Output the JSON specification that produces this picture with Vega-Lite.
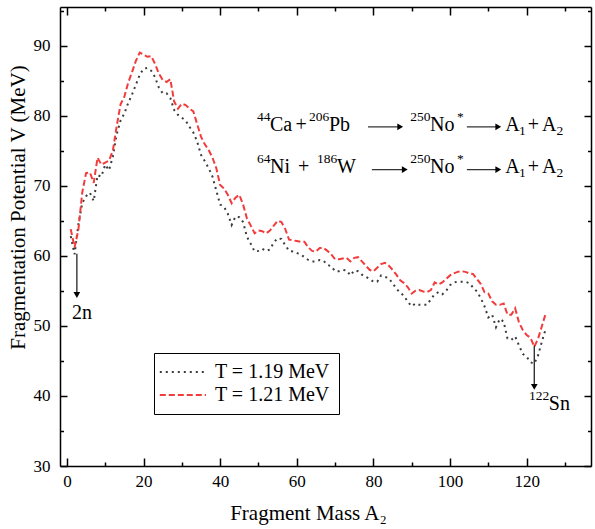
{
  "$schema": "https://vega.github.io/schema/vega-lite/v6.json",
  "width": 531,
  "height": 459,
  "autosize": {"type": "none"},
  "padding": {"left": 60, "top": 7, "right": 4, "bottom": 63},
  "background": "white",
  "config": {
    "view": {"stroke": null},
    "font": "Liberation Serif",
    "axis": {
      "grid": false,
      "domainColor": "black",
      "domainWidth": 1.5,
      "tickColor": "black",
      "tickWidth": 1.5,
      "labelFont": "Liberation Serif",
      "labelFontSize": 17,
      "labelColor": "black",
      "titleFont": "Liberation Serif",
      "titleFontSize": 21,
      "titleFontWeight": "normal",
      "titleColor": "black",
      "labelOverlap": false
    },
    "legend": {"labelFont": "Liberation Serif"},
    "text": {"font": "Liberation Serif"}
  },
  "datasets": {
    "curves": [
      {"A":1,"V":62.8,"s":"T = 1.19 MeV"},{"A":2,"V":60.2,"s":"T = 1.19 MeV"},{"A":3,"V":64.5,"s":"T = 1.19 MeV"},{"A":4,"V":67.5,"s":"T = 1.19 MeV"},{"A":5,"V":68.5,"s":"T = 1.19 MeV"},{"A":6,"V":69.0,"s":"T = 1.19 MeV"},{"A":7,"V":67.8,"s":"T = 1.19 MeV"},{"A":8,"V":71.5,"s":"T = 1.19 MeV"},{"A":9,"V":71.3,"s":"T = 1.19 MeV"},{"A":10,"V":73.0,"s":"T = 1.19 MeV"},
      {"A":11,"V":72.2,"s":"T = 1.19 MeV"},{"A":12,"V":74.2,"s":"T = 1.19 MeV"},{"A":13,"V":77.3,"s":"T = 1.19 MeV"},{"A":14,"V":79.3,"s":"T = 1.19 MeV"},{"A":15,"V":80.3,"s":"T = 1.19 MeV"},{"A":16,"V":81.8,"s":"T = 1.19 MeV"},{"A":17,"V":83.0,"s":"T = 1.19 MeV"},{"A":18,"V":84.4,"s":"T = 1.19 MeV"},{"A":19,"V":85.8,"s":"T = 1.19 MeV"},{"A":20,"V":86.7,"s":"T = 1.19 MeV"},
      {"A":21,"V":86.8,"s":"T = 1.19 MeV"},{"A":22,"V":86.4,"s":"T = 1.19 MeV"},{"A":23,"V":85.5,"s":"T = 1.19 MeV"},{"A":24,"V":84.0,"s":"T = 1.19 MeV"},{"A":25,"V":83.2,"s":"T = 1.19 MeV"},{"A":26,"V":83.2,"s":"T = 1.19 MeV"},{"A":27,"V":82.5,"s":"T = 1.19 MeV"},{"A":28,"V":80.8,"s":"T = 1.19 MeV"},{"A":29,"V":80.1,"s":"T = 1.19 MeV"},{"A":30,"V":79.7,"s":"T = 1.19 MeV"},
      {"A":31,"V":79.3,"s":"T = 1.19 MeV"},{"A":32,"V":78.4,"s":"T = 1.19 MeV"},{"A":33,"V":77.6,"s":"T = 1.19 MeV"},{"A":34,"V":76.3,"s":"T = 1.19 MeV"},{"A":35,"V":74.4,"s":"T = 1.19 MeV"},{"A":36,"V":73.5,"s":"T = 1.19 MeV"},{"A":37,"V":72.5,"s":"T = 1.19 MeV"},{"A":38,"V":71.3,"s":"T = 1.19 MeV"},{"A":39,"V":69.3,"s":"T = 1.19 MeV"},{"A":40,"V":67.3,"s":"T = 1.19 MeV"},
      {"A":41,"V":67.0,"s":"T = 1.19 MeV"},{"A":42,"V":66.0,"s":"T = 1.19 MeV"},{"A":43,"V":64.4,"s":"T = 1.19 MeV"},{"A":44,"V":65.6,"s":"T = 1.19 MeV"},{"A":45,"V":65.5,"s":"T = 1.19 MeV"},{"A":46,"V":64.8,"s":"T = 1.19 MeV"},{"A":47,"V":62.7,"s":"T = 1.19 MeV"},{"A":48,"V":61.7,"s":"T = 1.19 MeV"},{"A":49,"V":60.6,"s":"T = 1.19 MeV"},{"A":50,"V":60.7,"s":"T = 1.19 MeV"},
      {"A":51,"V":61.0,"s":"T = 1.19 MeV"},{"A":52,"V":60.7,"s":"T = 1.19 MeV"},{"A":53,"V":60.9,"s":"T = 1.19 MeV"},{"A":54,"V":61.9,"s":"T = 1.19 MeV"},{"A":55,"V":62.5,"s":"T = 1.19 MeV"},{"A":56,"V":62.4,"s":"T = 1.19 MeV"},{"A":57,"V":61.5,"s":"T = 1.19 MeV"},{"A":58,"V":60.7,"s":"T = 1.19 MeV"},{"A":59,"V":60.6,"s":"T = 1.19 MeV"},{"A":60,"V":60.4,"s":"T = 1.19 MeV"},
      {"A":61,"V":60.2,"s":"T = 1.19 MeV"},{"A":62,"V":59.8,"s":"T = 1.19 MeV"},{"A":63,"V":59.4,"s":"T = 1.19 MeV"},{"A":64,"V":59.2,"s":"T = 1.19 MeV"},{"A":65,"V":59.2,"s":"T = 1.19 MeV"},{"A":66,"V":59.4,"s":"T = 1.19 MeV"},{"A":67,"V":59.3,"s":"T = 1.19 MeV"},{"A":68,"V":58.7,"s":"T = 1.19 MeV"},{"A":69,"V":58.5,"s":"T = 1.19 MeV"},{"A":70,"V":57.8,"s":"T = 1.19 MeV"},
      {"A":71,"V":57.8,"s":"T = 1.19 MeV"},{"A":72,"V":58.0,"s":"T = 1.19 MeV"},{"A":73,"V":57.9,"s":"T = 1.19 MeV"},{"A":74,"V":57.2,"s":"T = 1.19 MeV"},{"A":75,"V":57.9,"s":"T = 1.19 MeV"},{"A":76,"V":57.8,"s":"T = 1.19 MeV"},{"A":77,"V":57.3,"s":"T = 1.19 MeV"},{"A":78,"V":57.0,"s":"T = 1.19 MeV"},{"A":79,"V":56.7,"s":"T = 1.19 MeV"},{"A":80,"V":56.3,"s":"T = 1.19 MeV"},
      {"A":81,"V":56.3,"s":"T = 1.19 MeV"},{"A":82,"V":57.2,"s":"T = 1.19 MeV"},{"A":83,"V":57.0,"s":"T = 1.19 MeV"},{"A":84,"V":56.8,"s":"T = 1.19 MeV"},{"A":85,"V":56.1,"s":"T = 1.19 MeV"},{"A":86,"V":55.3,"s":"T = 1.19 MeV"},{"A":87,"V":54.7,"s":"T = 1.19 MeV"},{"A":88,"V":54.3,"s":"T = 1.19 MeV"},{"A":89,"V":53.4,"s":"T = 1.19 MeV"},{"A":90,"V":52.8,"s":"T = 1.19 MeV"},
      {"A":91,"V":53.2,"s":"T = 1.19 MeV"},{"A":92,"V":53.0,"s":"T = 1.19 MeV"},{"A":93,"V":53.0,"s":"T = 1.19 MeV"},{"A":94,"V":53.0,"s":"T = 1.19 MeV"},{"A":95,"V":53.8,"s":"T = 1.19 MeV"},{"A":96,"V":54.5,"s":"T = 1.19 MeV"},{"A":97,"V":54.8,"s":"T = 1.19 MeV"},{"A":98,"V":54.5,"s":"T = 1.19 MeV"},{"A":99,"V":55.0,"s":"T = 1.19 MeV"},{"A":100,"V":55.8,"s":"T = 1.19 MeV"},
      {"A":101,"V":56.2,"s":"T = 1.19 MeV"},{"A":102,"V":56.3,"s":"T = 1.19 MeV"},{"A":103,"V":56.3,"s":"T = 1.19 MeV"},{"A":104,"V":56.3,"s":"T = 1.19 MeV"},{"A":105,"V":56.1,"s":"T = 1.19 MeV"},{"A":106,"V":55.5,"s":"T = 1.19 MeV"},{"A":107,"V":54.9,"s":"T = 1.19 MeV"},{"A":108,"V":54.0,"s":"T = 1.19 MeV"},{"A":109,"V":52.8,"s":"T = 1.19 MeV"},{"A":110,"V":51.2,"s":"T = 1.19 MeV"},
      {"A":111,"V":51.6,"s":"T = 1.19 MeV"},{"A":112,"V":49.8,"s":"T = 1.19 MeV"},{"A":113,"V":51.0,"s":"T = 1.19 MeV"},{"A":114,"V":50.6,"s":"T = 1.19 MeV"},{"A":115,"V":48.2,"s":"T = 1.19 MeV"},{"A":116,"V":48.0,"s":"T = 1.19 MeV"},{"A":117,"V":48.5,"s":"T = 1.19 MeV"},{"A":118,"V":47.2,"s":"T = 1.19 MeV"},{"A":119,"V":46.0,"s":"T = 1.19 MeV"},{"A":120,"V":45.6,"s":"T = 1.19 MeV"},
      {"A":121,"V":44.8,"s":"T = 1.19 MeV"},{"A":122,"V":44.6,"s":"T = 1.19 MeV"},{"A":123,"V":45.8,"s":"T = 1.19 MeV"},{"A":124,"V":47.8,"s":"T = 1.19 MeV"},{"A":125,"V":49.6,"s":"T = 1.19 MeV"},
      {"A":1,"V":63.8,"s":"T = 1.21 MeV"},{"A":2,"V":61.2,"s":"T = 1.21 MeV"},{"A":3,"V":63.7,"s":"T = 1.21 MeV"},{"A":4,"V":69.0,"s":"T = 1.21 MeV"},{"A":5,"V":71.8,"s":"T = 1.21 MeV"},{"A":6,"V":71.9,"s":"T = 1.21 MeV"},{"A":7,"V":70.4,"s":"T = 1.21 MeV"},{"A":8,"V":74.0,"s":"T = 1.21 MeV"},{"A":9,"V":73.0,"s":"T = 1.21 MeV"},{"A":10,"V":73.3,"s":"T = 1.21 MeV"},
      {"A":11,"V":73.6,"s":"T = 1.21 MeV"},{"A":12,"V":75.0,"s":"T = 1.21 MeV"},{"A":13,"V":78.5,"s":"T = 1.21 MeV"},{"A":14,"V":81.6,"s":"T = 1.21 MeV"},{"A":15,"V":82.7,"s":"T = 1.21 MeV"},{"A":16,"V":84.7,"s":"T = 1.21 MeV"},{"A":17,"V":86.2,"s":"T = 1.21 MeV"},{"A":18,"V":87.8,"s":"T = 1.21 MeV"},{"A":19,"V":89.0,"s":"T = 1.21 MeV"},{"A":20,"V":88.7,"s":"T = 1.21 MeV"},
      {"A":21,"V":88.4,"s":"T = 1.21 MeV"},{"A":22,"V":88.5,"s":"T = 1.21 MeV"},{"A":23,"V":87.4,"s":"T = 1.21 MeV"},{"A":24,"V":86.0,"s":"T = 1.21 MeV"},{"A":25,"V":85.1,"s":"T = 1.21 MeV"},{"A":26,"V":84.8,"s":"T = 1.21 MeV"},{"A":27,"V":85.2,"s":"T = 1.21 MeV"},{"A":28,"V":82.0,"s":"T = 1.21 MeV"},{"A":29,"V":81.0,"s":"T = 1.21 MeV"},{"A":30,"V":81.7,"s":"T = 1.21 MeV"},
      {"A":31,"V":81.5,"s":"T = 1.21 MeV"},{"A":32,"V":81.0,"s":"T = 1.21 MeV"},{"A":33,"V":80.6,"s":"T = 1.21 MeV"},{"A":34,"V":78.8,"s":"T = 1.21 MeV"},{"A":35,"V":77.0,"s":"T = 1.21 MeV"},{"A":36,"V":75.9,"s":"T = 1.21 MeV"},{"A":37,"V":75.1,"s":"T = 1.21 MeV"},{"A":38,"V":74.0,"s":"T = 1.21 MeV"},{"A":39,"V":72.5,"s":"T = 1.21 MeV"},{"A":40,"V":70.1,"s":"T = 1.21 MeV"},
      {"A":41,"V":69.6,"s":"T = 1.21 MeV"},{"A":42,"V":68.7,"s":"T = 1.21 MeV"},{"A":43,"V":67.5,"s":"T = 1.21 MeV"},{"A":44,"V":68.3,"s":"T = 1.21 MeV"},{"A":45,"V":68.7,"s":"T = 1.21 MeV"},{"A":46,"V":67.3,"s":"T = 1.21 MeV"},{"A":47,"V":65.3,"s":"T = 1.21 MeV"},{"A":48,"V":64.3,"s":"T = 1.21 MeV"},{"A":49,"V":63.2,"s":"T = 1.21 MeV"},{"A":50,"V":63.6,"s":"T = 1.21 MeV"},
      {"A":51,"V":63.5,"s":"T = 1.21 MeV"},{"A":52,"V":63.2,"s":"T = 1.21 MeV"},{"A":53,"V":63.6,"s":"T = 1.21 MeV"},{"A":54,"V":64.3,"s":"T = 1.21 MeV"},{"A":55,"V":65.0,"s":"T = 1.21 MeV"},{"A":56,"V":64.8,"s":"T = 1.21 MeV"},{"A":57,"V":63.8,"s":"T = 1.21 MeV"},{"A":58,"V":62.3,"s":"T = 1.21 MeV"},{"A":59,"V":62.2,"s":"T = 1.21 MeV"},{"A":60,"V":62.1,"s":"T = 1.21 MeV"},
      {"A":61,"V":62.0,"s":"T = 1.21 MeV"},{"A":62,"V":62.0,"s":"T = 1.21 MeV"},{"A":63,"V":61.2,"s":"T = 1.21 MeV"},{"A":64,"V":60.7,"s":"T = 1.21 MeV"},{"A":65,"V":60.6,"s":"T = 1.21 MeV"},{"A":66,"V":61.1,"s":"T = 1.21 MeV"},{"A":67,"V":61.1,"s":"T = 1.21 MeV"},{"A":68,"V":60.7,"s":"T = 1.21 MeV"},{"A":69,"V":60.2,"s":"T = 1.21 MeV"},{"A":70,"V":59.5,"s":"T = 1.21 MeV"},
      {"A":71,"V":59.5,"s":"T = 1.21 MeV"},{"A":72,"V":59.6,"s":"T = 1.21 MeV"},{"A":73,"V":59.7,"s":"T = 1.21 MeV"},{"A":74,"V":59.2,"s":"T = 1.21 MeV"},{"A":75,"V":59.7,"s":"T = 1.21 MeV"},{"A":76,"V":59.8,"s":"T = 1.21 MeV"},{"A":77,"V":59.2,"s":"T = 1.21 MeV"},{"A":78,"V":58.6,"s":"T = 1.21 MeV"},{"A":79,"V":58.0,"s":"T = 1.21 MeV"},{"A":80,"V":57.8,"s":"T = 1.21 MeV"},
      {"A":81,"V":58.3,"s":"T = 1.21 MeV"},{"A":82,"V":58.8,"s":"T = 1.21 MeV"},{"A":83,"V":59.0,"s":"T = 1.21 MeV"},{"A":84,"V":58.6,"s":"T = 1.21 MeV"},{"A":85,"V":58.0,"s":"T = 1.21 MeV"},{"A":86,"V":57.3,"s":"T = 1.21 MeV"},{"A":87,"V":56.5,"s":"T = 1.21 MeV"},{"A":88,"V":56.1,"s":"T = 1.21 MeV"},{"A":89,"V":55.5,"s":"T = 1.21 MeV"},{"A":90,"V":54.6,"s":"T = 1.21 MeV"},
      {"A":91,"V":55.0,"s":"T = 1.21 MeV"},{"A":92,"V":55.1,"s":"T = 1.21 MeV"},{"A":93,"V":54.9,"s":"T = 1.21 MeV"},{"A":94,"V":54.8,"s":"T = 1.21 MeV"},{"A":95,"V":55.1,"s":"T = 1.21 MeV"},{"A":96,"V":56.2,"s":"T = 1.21 MeV"},{"A":97,"V":55.9,"s":"T = 1.21 MeV"},{"A":98,"V":56.2,"s":"T = 1.21 MeV"},{"A":99,"V":56.7,"s":"T = 1.21 MeV"},{"A":100,"V":57.2,"s":"T = 1.21 MeV"},
      {"A":101,"V":57.5,"s":"T = 1.21 MeV"},{"A":102,"V":57.7,"s":"T = 1.21 MeV"},{"A":103,"V":57.8,"s":"T = 1.21 MeV"},{"A":104,"V":57.7,"s":"T = 1.21 MeV"},{"A":105,"V":57.5,"s":"T = 1.21 MeV"},{"A":106,"V":57.4,"s":"T = 1.21 MeV"},{"A":107,"V":56.7,"s":"T = 1.21 MeV"},{"A":108,"V":56.0,"s":"T = 1.21 MeV"},{"A":109,"V":54.8,"s":"T = 1.21 MeV"},{"A":110,"V":54.6,"s":"T = 1.21 MeV"},
      {"A":111,"V":53.5,"s":"T = 1.21 MeV"},{"A":112,"V":53.0,"s":"T = 1.21 MeV"},{"A":113,"V":53.0,"s":"T = 1.21 MeV"},{"A":114,"V":53.2,"s":"T = 1.21 MeV"},{"A":115,"V":51.6,"s":"T = 1.21 MeV"},{"A":116,"V":51.6,"s":"T = 1.21 MeV"},{"A":117,"V":52.5,"s":"T = 1.21 MeV"},{"A":118,"V":50.5,"s":"T = 1.21 MeV"},{"A":119,"V":49.4,"s":"T = 1.21 MeV"},{"A":120,"V":48.7,"s":"T = 1.21 MeV"},
      {"A":121,"V":48.3,"s":"T = 1.21 MeV"},{"A":122,"V":47.0,"s":"T = 1.21 MeV"},{"A":123,"V":48.2,"s":"T = 1.21 MeV"},{"A":124,"V":50.0,"s":"T = 1.21 MeV"},{"A":125,"V":51.8,"s":"T = 1.21 MeV"}
    ],
    "notes": [
      {"x":53.0,"y":78.7,"t":"Ca","k":"main"},
      {"x":59.7,"y":78.7,"t":"+","k":"main"},
      {"x":63.2,"y":78.7,"t":"206","k":"sup"},
      {"x":68.4,"y":78.7,"t":"Pb","k":"main"},
      {"x":94.8,"y":78.7,"t":"No","k":"main"},
      {"x":114.4,"y":78.7,"t":"A","k":"main"},
      {"x":120.3,"y":78.7,"t":"+","k":"main"},
      {"x":124.0,"y":78.7,"t":"A","k":"main"},
      {"x":49.6,"y":78.7,"t":"44","k":"sup"},
      {"x":89.6,"y":78.7,"t":"250","k":"sup"},
      {"x":101.8,"y":78.7,"t":"*","k":"sup"},
      {"x":118.0,"y":78.7,"t":"1","k":"sub"},
      {"x":127.8,"y":78.7,"t":"2","k":"sub"},
      {"x":53.0,"y":72.6,"t":"Ni","k":"main"},
      {"x":60.3,"y":72.6,"t":"+","k":"main"},
      {"x":70.5,"y":72.6,"t":"W","k":"main"},
      {"x":94.8,"y":72.6,"t":"No","k":"main"},
      {"x":114.4,"y":72.6,"t":"A","k":"main"},
      {"x":120.3,"y":72.6,"t":"+","k":"main"},
      {"x":124.0,"y":72.6,"t":"A","k":"main"},
      {"x":49.6,"y":72.6,"t":"64","k":"sup"},
      {"x":65.3,"y":72.6,"t":"186","k":"sup"},
      {"x":89.6,"y":72.6,"t":"250","k":"sup"},
      {"x":101.8,"y":72.6,"t":"*","k":"sup"},
      {"x":118.0,"y":72.6,"t":"1","k":"sub"},
      {"x":127.8,"y":72.6,"t":"2","k":"sub"},
      {"x":1.3,"y":51.8,"t":"2n","k":"main"},
      {"x":125.8,"y":38.9,"t":"Sn","k":"main"},
      {"x":120.6,"y":38.9,"t":"122","k":"sup"}
    ],
    "arrows": [
      {"x1":78.6,"x2":87.0,"y1":78.4,"y2":78.4,"dir":"right"},
      {"x1":104.4,"x2":112.6,"y1":78.4,"y2":78.4,"dir":"right"},
      {"x1":79.6,"x2":88.2,"y1":72.3,"y2":72.3,"dir":"right"},
      {"x1":104.4,"x2":112.6,"y1":72.3,"y2":72.3,"dir":"right"},
      {"x1":2.6,"x2":2.6,"y1":60.3,"y2":54.4,"dir":"down"},
      {"x1":122.0,"x2":122.0,"y1":47.2,"y2":41.3,"dir":"down"}
    ]
  },
  "layer": [
    {
      "data": {"name": "curves"},
      "mark": {"type": "line", "strokeWidth": 2},
      "encoding": {
        "x": {
          "field": "A", "type": "quantitative",
          "scale": {"domain": [-1.8, 136.8], "nice": false, "zero": false},
          "axis": {
            "orient": "bottom",
            "title": "Fragment Mass A₂",
            "values": [0,10,20,30,40,50,60,70,80,90,100,110,120,130],
            "labelExpr": "datum.value % 20 === 0 ? datum.label : ''",
            "tickSize": {"condition": {"test": "datum.value % 20 === 0", "value": -8}, "value": -4},
            "labelPadding": 15,
            "titlePadding": 9,
            "titleX": 248
          }
        },
        "y": {
          "field": "V", "type": "quantitative",
          "scale": {"domain": [30, 95.5], "nice": false, "zero": false},
          "axis": {
            "orient": "left",
            "title": "Fragmentation Potential V (MeV)",
            "values": [30,35,40,45,50,55,60,65,70,75,80,85,90,95],
            "labelExpr": "datum.value % 10 === 0 ? datum.label : ''",
            "tickSize": {"condition": {"test": "datum.value % 10 === 0", "value": -7}, "value": -3.5},
            "labelPadding": 17,
            "titlePadding": 5,
            "titleY": 200
          }
        },
        "color": {
          "field": "s", "type": "nominal",
          "scale": {"domain": ["T = 1.19 MeV", "T = 1.21 MeV"], "range": ["#3c3c3c", "#f23c3c"]},
          "legend": {
            "orient": "none", "legendX": 94, "legendY": 346,
            "title": null,
            "strokeColor": "black", "fillColor": "white",
            "padding": 9,
            "symbolType": "M-2.2,0H5.5", "symbolSize": 144, "symbolStrokeWidth": 2,
            "labelFontSize": 20, "labelColor": "black",
            "labelOffset": 32, "rowPadding": 3
          }
        },
        "strokeDash": {
          "field": "s", "type": "nominal",
          "scale": {"domain": ["T = 1.19 MeV", "T = 1.21 MeV"], "range": [[2, 4], [6, 3]]},
          "legend": {
            "orient": "none", "legendX": 94, "legendY": 346,
            "title": null,
            "strokeColor": "black", "fillColor": "white",
            "padding": 9,
            "symbolType": "M-2.2,0H5.5", "symbolSize": 144, "symbolStrokeWidth": 2,
            "labelFontSize": 20, "labelColor": "black",
            "labelOffset": 32, "rowPadding": 3
          }
        }
      }
    },
    {
      "data": {"name": "notes"},
      "transform": [{"filter": "datum.k === 'main'"}],
      "mark": {"type": "text", "align": "left", "baseline": "middle", "fontSize": 20, "color": "black"},
      "encoding": {
        "x": {
          "field": "x", "type": "quantitative",
          "scale": {"domain": [-1.8, 136.8], "nice": false, "zero": false},
          "axis": {
            "orient": "top", "title": null, "labels": false,
            "values": [0,10,20,30,40,50,60,70,80,90,100,110,120,130],
            "tickSize": {"condition": {"test": "datum.value % 20 === 0", "value": -8}, "value": -4}
          }
        },
        "y": {
          "field": "y", "type": "quantitative",
          "scale": {"domain": [30, 95.5], "nice": false, "zero": false},
          "axis": {
            "orient": "right", "title": null, "labels": false,
            "values": [30,35,40,45,50,55,60,65,70,75,80,85,90,95],
            "tickSize": {"condition": {"test": "datum.value % 10 === 0", "value": -7}, "value": -3.5}
          }
        },
        "text": {"field": "t"}
      }
    },
    {
      "data": {"name": "notes"},
      "transform": [{"filter": "datum.k === 'sup'"}],
      "mark": {"type": "text", "align": "left", "baseline": "middle", "fontSize": 13.5, "dy": -8, "color": "black"},
      "encoding": {
        "x": {"field": "x", "type": "quantitative", "scale": {"domain": [-1.8, 136.8], "nice": false, "zero": false}, "axis": null},
        "y": {"field": "y", "type": "quantitative", "scale": {"domain": [30, 95.5], "nice": false, "zero": false}, "axis": null},
        "text": {"field": "t"}
      }
    },
    {
      "data": {"name": "notes"},
      "transform": [{"filter": "datum.k === 'sub'"}],
      "mark": {"type": "text", "align": "left", "baseline": "middle", "fontSize": 13.5, "dy": 6, "color": "black"},
      "encoding": {
        "x": {"field": "x", "type": "quantitative", "scale": {"domain": [-1.8, 136.8], "nice": false, "zero": false}, "axis": null},
        "y": {"field": "y", "type": "quantitative", "scale": {"domain": [30, 95.5], "nice": false, "zero": false}, "axis": null},
        "text": {"field": "t"}
      }
    },
    {
      "data": {"name": "arrows"},
      "mark": {"type": "rule", "color": "#333333", "strokeWidth": 1.4},
      "encoding": {
        "x": {"field": "x1", "type": "quantitative", "scale": {"domain": [-1.8, 136.8], "nice": false, "zero": false}, "axis": null},
        "x2": {"field": "x2"},
        "y": {"field": "y1", "type": "quantitative", "scale": {"domain": [30, 95.5], "nice": false, "zero": false}, "axis": null},
        "y2": {"field": "y2"}
      }
    },
    {
      "data": {"name": "arrows"},
      "mark": {"type": "point", "filled": true, "size": 45, "color": "black", "opacity": 1},
      "encoding": {
        "x": {"field": "x2", "type": "quantitative", "scale": {"domain": [-1.8, 136.8], "nice": false, "zero": false}, "axis": null},
        "y": {"field": "y2", "type": "quantitative", "scale": {"domain": [30, 95.5], "nice": false, "zero": false}, "axis": null},
        "shape": {"field": "dir", "type": "nominal", "scale": {"domain": ["right", "down"], "range": ["triangle-right", "triangle-down"]}, "legend": null}
      }
    }
  ],
  "resolve": {"axis": {"x": "independent", "y": "independent"}}
}
